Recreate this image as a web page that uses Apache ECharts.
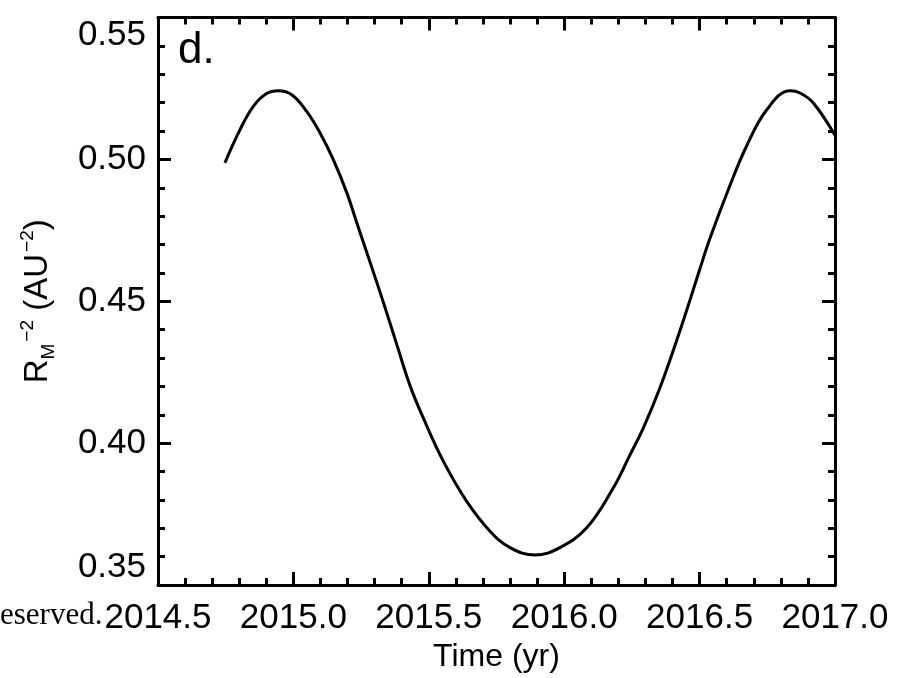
<!DOCTYPE html>
<html>
<head>
<meta charset="utf-8">
<script src="https://cdn.jsdelivr.net/npm/echarts@6/dist/echarts.min.js"></script>
<style>
html,body{margin:0;padding:0;background:#fff;}
#chart{width:905px;height:678px;}
</style>
</head>
<body>
<div id="chart"></div>
<script>
// Time (yr)
var years = [2014.747, 2014.803, 2014.852, 2014.901, 2014.944, 2014.994, 2015.049, 2015.098, 2015.147, 2015.197,
  2015.234, 2015.283, 2015.332, 2015.381, 2015.431, 2015.480, 2015.554, 2015.640, 2015.726,
  2015.800, 2015.892, 2015.984, 2016.083, 2016.181, 2016.243, 2016.292, 2016.354, 2016.415, 2016.465,
  2016.501, 2016.538, 2016.612, 2016.674, 2016.748, 2016.834, 2016.871, 2016.920, 2017.000];
// R_M^-2 (AU^-2)
var invR2 = [0.4988, 0.5105, 0.5187, 0.5232, 0.5242, 0.5228, 0.5169, 0.5094, 0.5000, 0.4883,
  0.4777, 0.4638, 0.4497, 0.4350, 0.4202, 0.4088, 0.3936, 0.3795, 0.3690,
  0.3632, 0.3606, 0.3632, 0.3702, 0.3842, 0.3959, 0.4053, 0.4196, 0.4361, 0.4506,
  0.4614, 0.4721, 0.4908, 0.5048, 0.5175, 0.5242, 0.5234, 0.5199, 0.5085];
var xTicks = [2014.5, 2017.0, 0.5];
var yTicks = [0.35, 0.55, 0.05];
var panelLabel = 'd.';
var xTitle = 'Time (yr)';
var yTitle = '{a|R}{sub|M}{sup|\u22122}{a| (AU}{sup|\u22122}{a|)}';
var watermark = 'eserved.';

var data = years.map(function (x, i) { return [x, invR2[i]]; });
var FONT = 'Liberation Sans';
var black = '#000';

function xAxisCfg(pos, showLabel) {
  return {
    type: 'value', position: pos, min: xTicks[0], max: xTicks[1], interval: xTicks[2],
    axisLine: { show: true, onZero: false, lineStyle: { color: black, width: 3 } },
    axisTick: { show: true, inside: true, length: 13, lineStyle: { color: black, width: 3 } },
    minorTick: { show: true, splitNumber: 5, length: 7, lineStyle: { color: black, width: 3 } },
    splitLine: { show: false }, minorSplitLine: { show: false },
    axisLabel: { show: showLabel, color: black, fontFamily: FONT, fontSize: 35, margin: 16,
      formatter: function (v) { return v.toFixed(1); } },
    name: showLabel ? xTitle : '', nameLocation: 'middle', nameGap: 54,
    nameTextStyle: { color: black, fontFamily: FONT, fontSize: 32 }
  };
}
function yAxisCfg(pos, showLabel) {
  return {
    type: 'value', position: pos, min: yTicks[0], max: yTicks[1], interval: yTicks[2],
    axisLine: { show: true, onZero: false, lineStyle: { color: black, width: 3 } },
    axisTick: { show: true, inside: true, length: 13, lineStyle: { color: black, width: 3 } },
    minorTick: { show: true, splitNumber: 5, length: 7, lineStyle: { color: black, width: 3 } },
    splitLine: { show: false }, minorSplitLine: { show: false },
    axisLabel: { show: showLabel, color: black, fontFamily: FONT, fontSize: 35, margin: 12,
      verticalAlignMinLabel: 'bottom', verticalAlignMaxLabel: 'top',
      formatter: function (v) { return v.toFixed(2); } },
    name: showLabel ? yTitle : '', nameLocation: 'middle', nameGap: 100,
    nameTextStyle: {
      color: black, fontFamily: FONT, fontSize: 33,
      rich: {
        a: { color: black, fontFamily: FONT, fontSize: 33, lineHeight: 40 },
        sub: { color: black, fontFamily: FONT, fontSize: 19, verticalAlign: 'bottom', lineHeight: 40 },
        sup: { color: black, fontFamily: FONT, fontSize: 19, verticalAlign: 'top', lineHeight: 40, padding: [0, 0, 0, 2] }
      }
    }
  };
}

var chart = echarts.init(document.getElementById('chart'), null, { renderer: 'canvas' });
chart.setOption({
  animation: false,
  backgroundColor: '#fff',
  grid: { left: 158, right: 70, top: 17.5, bottom: 90.5, containLabel: false },
  xAxis: [xAxisCfg('bottom', true), xAxisCfg('top', false)],
  yAxis: [yAxisCfg('left', true), yAxisCfg('right', false)],
  graphic: [
    { type: 'text', left: 178, top: 29, style: { text: panelLabel, fill: black, font: '44px "Liberation Sans"' } },
    { type: 'text', left: 0, top: 600, style: { text: watermark, fill: black, font: '31px "Liberation Serif"' } }
  ],
  series: [{
    type: 'line', data: data, xAxisIndex: 0, yAxisIndex: 0,
    showSymbol: false, smooth: 0.4,
    lineStyle: { color: black, width: 3 }, clip: false
  }]
});
</script>
</body>
</html>
